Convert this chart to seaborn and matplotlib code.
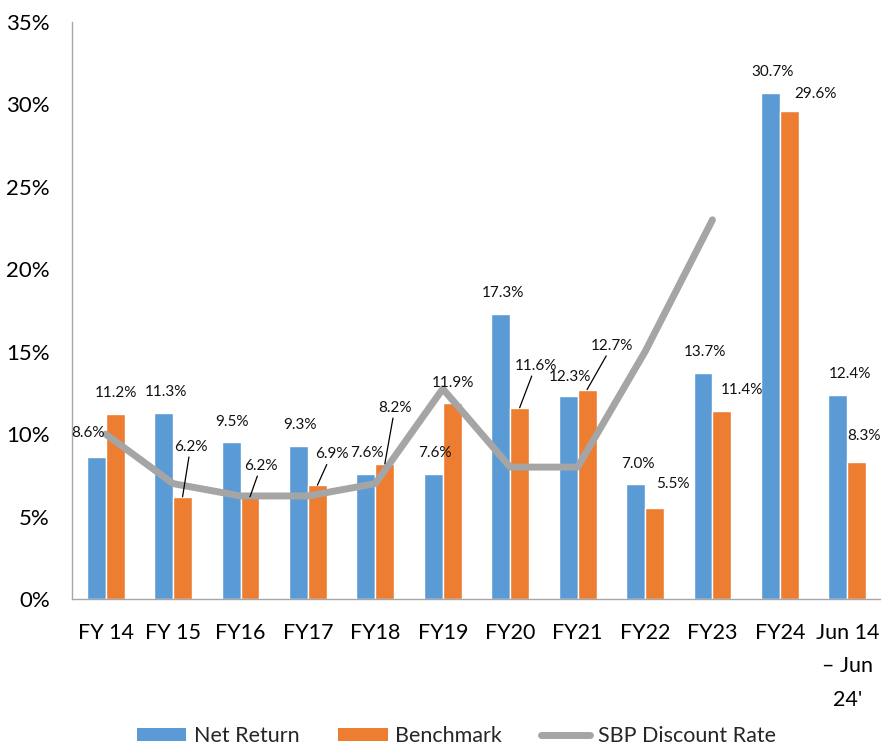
import numpy as np
import pandas as pd
import matplotlib.pyplot as plt
import seaborn as sns
from matplotlib.patches import Patch
from matplotlib.lines import Line2D
from matplotlib.colors import to_rgb
from matplotlib.ticker import FuncFormatter

# ─── Data ───────────────────────────────────────────────────────────────────
periods = ['FY 14', 'FY 15', 'FY16', 'FY17', 'FY18', 'FY19', 'FY20', 'FY21',
           'FY22', 'FY23', 'FY24', "Jun 14\n– Jun\n24'"]
net_return = [8.6, 11.3, 9.5, 9.3, 7.6, 7.6, 17.3, 12.3, 7.0, 13.7, 30.7, 12.4]
benchmark = [11.2, 6.2, 6.2, 6.9, 8.2, 11.9, 11.6, 12.7, 5.5, 11.4, 29.6, 8.3]
sbp_rate = [10.0, 7.0, 6.25, 6.25, 7.0, 12.75, 8.0, 8.0, 15.0, 23.0]

# label placement (pixel offsets from bar top, leader line yes/no)
net_offsets = [(-8, 24, 0), (2, 21, 0), (1, 20, 0), (1, 21, 0), (1, 21, 0), (2, 21, 0),
               (2, 21, 0), (2, 19, 0), (2, 20, 0), (2, 21, 0), (2, 21, 0), (12, 21, 0)]
bench_offsets = [(1, 21, 0), (8, 50, 1), (11, 31, 1), (14, 31, 1), (10, 56, 1), (1, 20, 0),
                 (16, 42, 1), (25, 44, 1), (18, 24, 0), (20, 21, 0), (26, 17, 0), (7, 26, 0)]

BLUE, ORANGE, GREY = '#5B9BD5', '#ED7D31', '#A5A5A5'

df = pd.DataFrame({
    'period': periods * 2,
    'value': net_return + benchmark,
    'series': ['Net Return'] * len(periods) + ['Benchmark'] * len(periods),
})

sns.set_style('white')
plt.rcParams['font.family'] = ['Lato', 'DejaVu Sans']

fig = plt.figure(figsize=(8.81, 7.49), dpi=100)
ax = fig.add_axes([72 / 881, 1 - 599 / 749, (881 - 72) / 881, (599 - 22) / 749])

sns.barplot(data=df, x='period', y='value', hue='series', order=periods,
            palette=[BLUE, ORANGE], saturation=1, width=0.56, errorbar=None,
            edgecolor='white', linewidth=1.0, legend=False, ax=ax)

sns.lineplot(x=np.arange(len(sbp_rate)), y=sbp_rate, color=GREY, linewidth=5,
             sort=False, ax=ax, solid_capstyle='round', solid_joinstyle='round')

# ─── Axes ───────────────────────────────────────────────────────────────────
ax.set_xlim(-0.5, len(periods) - 0.5)
ax.set_ylim(0, 35)
ax.set_yticks(range(0, 36, 5))
ax.yaxis.set_major_formatter(FuncFormatter(lambda v, _: f'{v:.0f}%'))
ax.set_xlabel('')
ax.set_ylabel('')

for s in ['top', 'right']:
    ax.spines[s].set_visible(False)
for s in ['left', 'bottom']:
    ax.spines[s].set_color('#A6A6A6')
    ax.spines[s].set_linewidth(1.0)

ax.set_xticks(np.arange(-0.5, len(periods), 1.0), minor=True)
ax.tick_params(axis='x', which='major', length=0, pad=17, labelsize=15.5, labelcolor='black')
ax.tick_params(axis='x', which='minor', length=6, width=1, color='#A6A6A6', direction='out')
ax.tick_params(axis='y', which='major', length=5, width=1, color='#A6A6A6', direction='out',
               pad=11, labelsize=16, labelcolor='black')
for lab in ax.get_xticklabels():
    lab.set_linespacing(1.85)

# ─── Data labels ────────────────────────────────────────────────────────────
bars = sorted(ax.patches, key=lambda p: p.get_x())
net_bars = [b for b in bars if np.allclose(b.get_facecolor()[:3], to_rgb(BLUE), atol=0.02)]
bench_bars = [b for b in bars if np.allclose(b.get_facecolor()[:3], to_rgb(ORANGE), atol=0.02)]

for group, vals, offs in [(net_bars, net_return, net_offsets), (bench_bars, benchmark, bench_offsets)]:
    for bar, v, (dx, dy, lead) in zip(group, vals, offs):
        xc = bar.get_x() + bar.get_width() / 2
        arrow = dict(arrowstyle='-', color='black', lw=0.9, shrinkA=0, shrinkB=0) if lead else None
        ax.annotate(f'{v:.1f}%', xy=(xc, v), xytext=(dx, dy), textcoords='offset pixels',
                    ha='center', va='center', fontsize=11, color='#111111',
                    arrowprops=arrow, annotation_clip=False)

# ─── Legend ─────────────────────────────────────────────────────────────────
handles = [Patch(facecolor=BLUE, edgecolor='none'),
           Patch(facecolor=ORANGE, edgecolor='none'),
           Line2D([0], [0], color=GREY, lw=5, solid_capstyle='round')]
fig.legend(handles, ['Net Return', 'Benchmark', 'SBP Discount Rate'],
           loc='center', bbox_to_anchor=(0.518, 0.017), ncol=3, frameon=False,
           fontsize=15.5, handlelength=2.3, handleheight=0.55, handletextpad=0.35,
           columnspacing=1.8)

fig.savefig('out.png', dpi=100)
